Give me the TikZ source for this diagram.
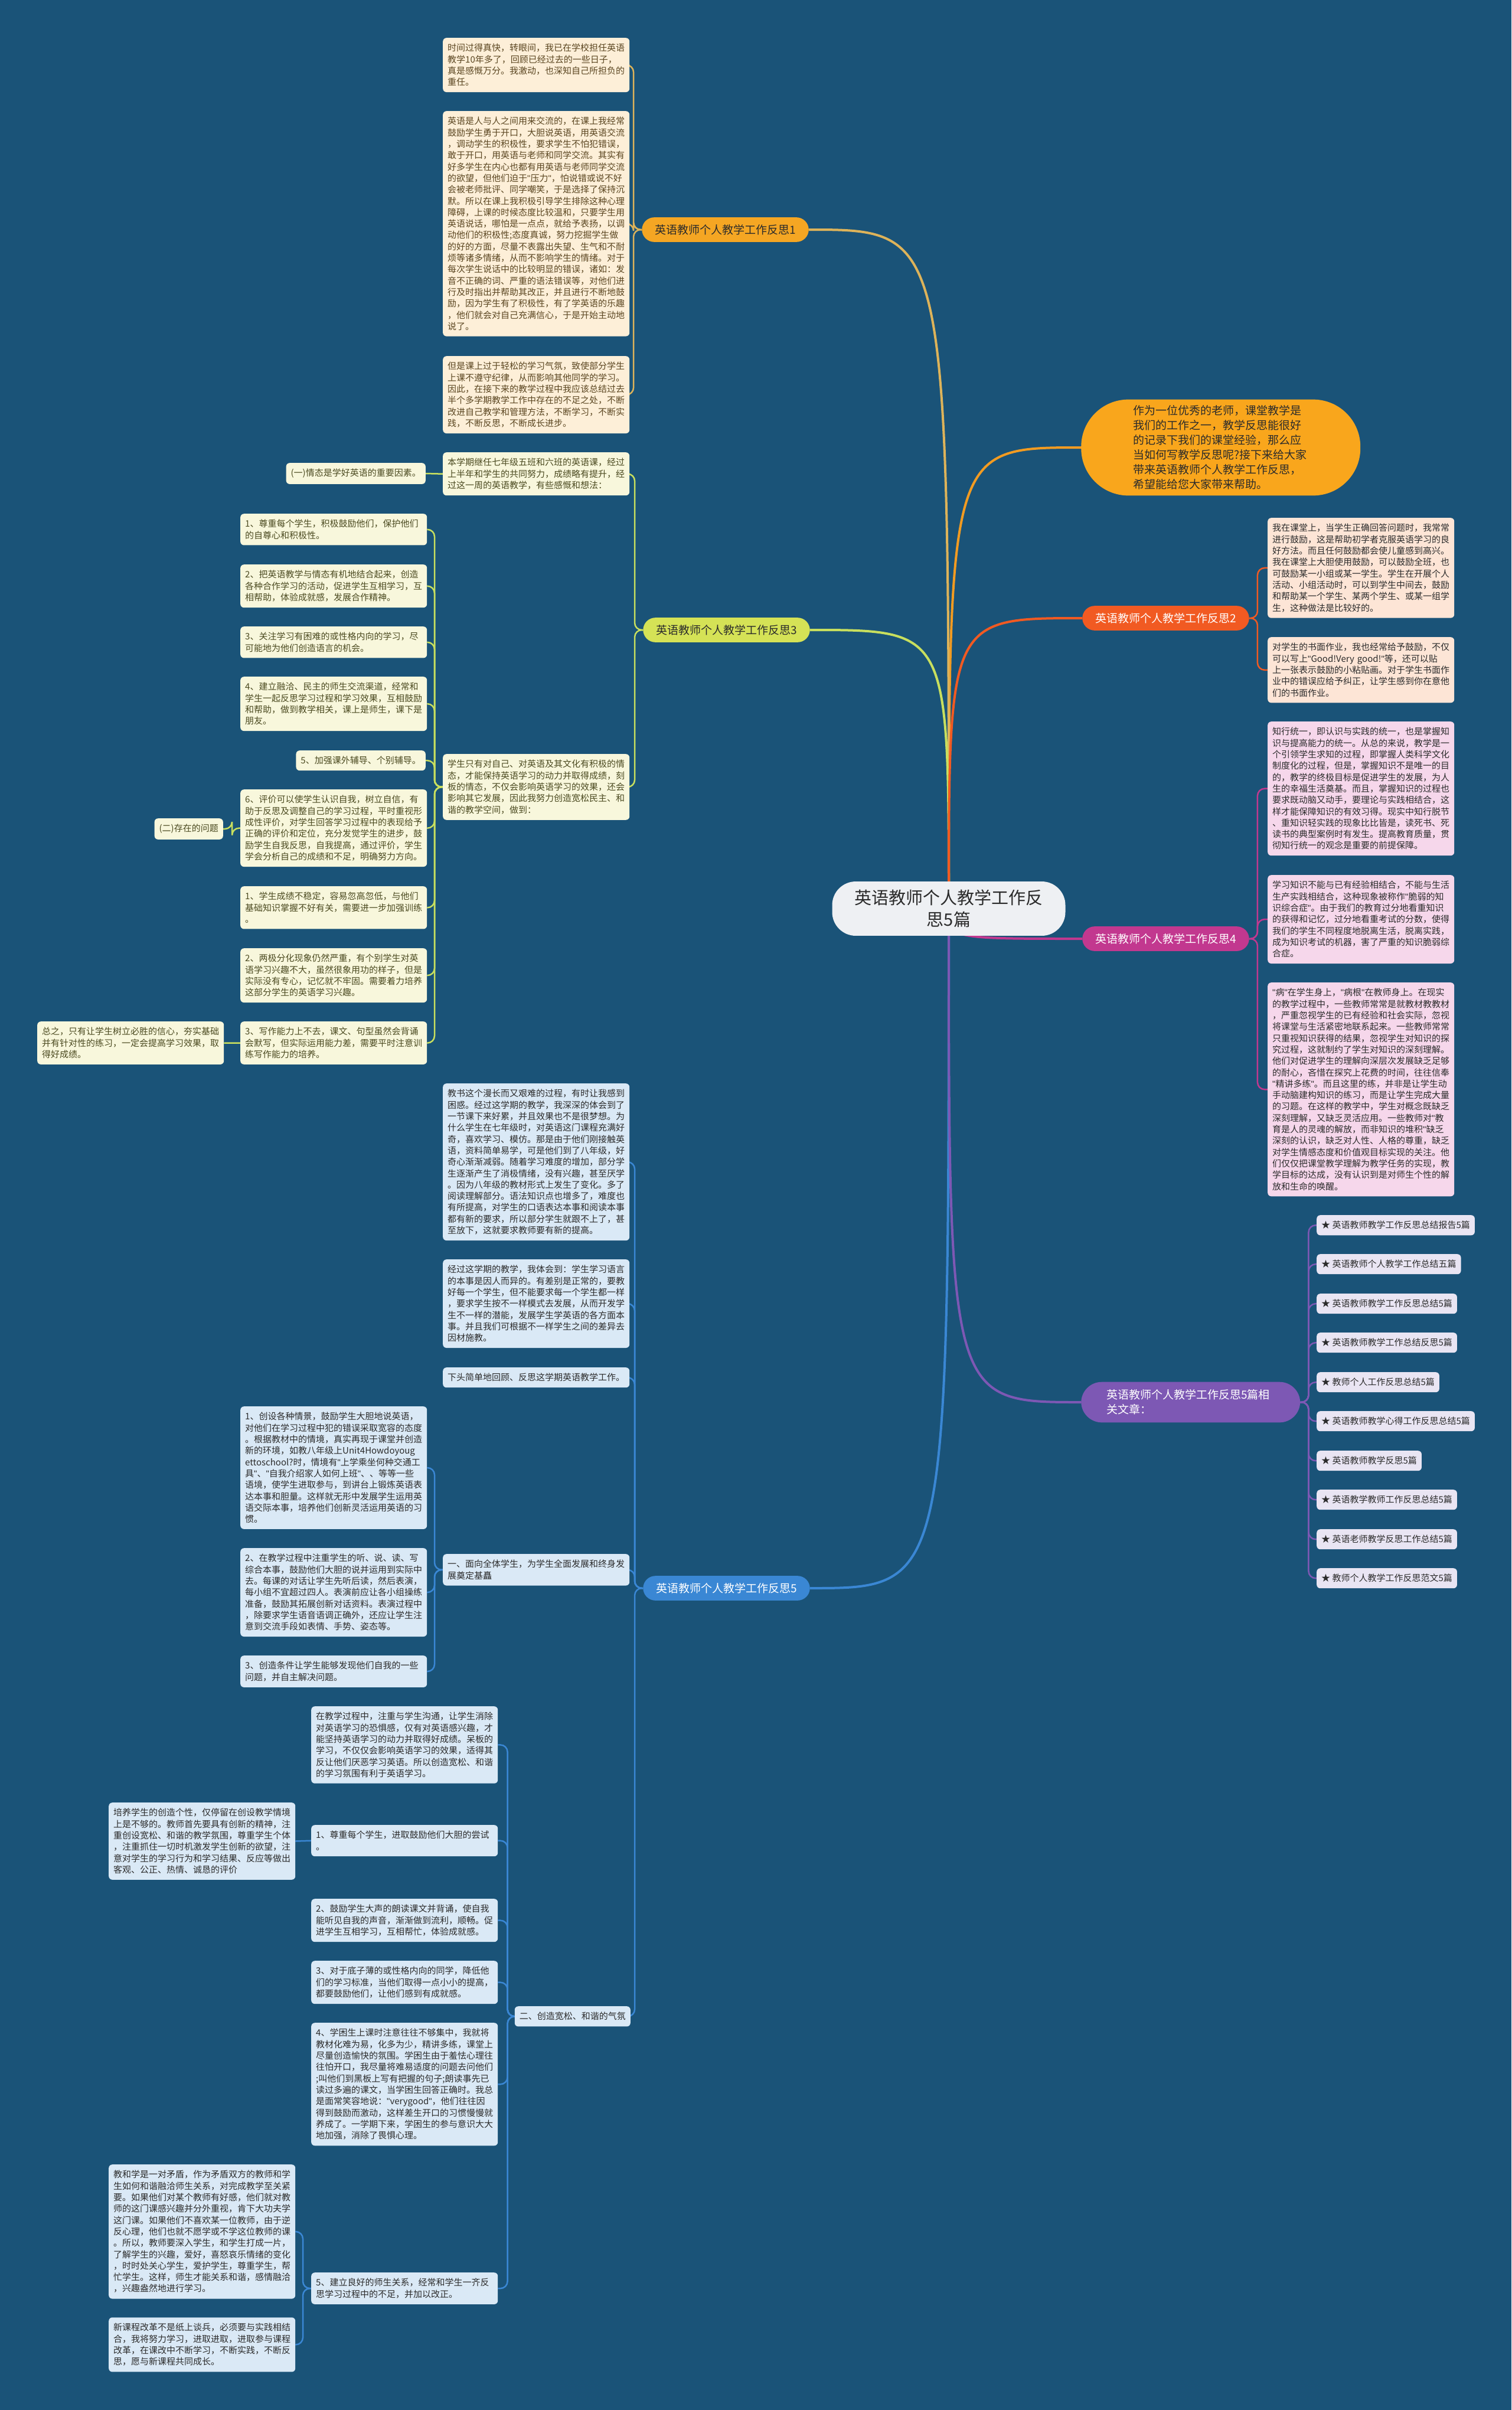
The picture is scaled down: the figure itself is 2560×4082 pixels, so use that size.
\documentclass[tikz,border=0pt]{standalone}
\usepackage{fontspec}
\setmainfont{Noto Sans CJK SC}
\newfontfamily\latinq{Liberation Sans}
\usetikzlibrary{backgrounds}

\definecolor{bgblue}{HTML}{1A5378}
\definecolor{rootfill}{HTML}{EEF0F3}
\definecolor{orgA}{HTML}{F5A623}
\definecolor{lineA}{HTML}{DDB35A}
\definecolor{leafA}{HTML}{FDEFD8}
\definecolor{textA}{HTML}{5A4520}
\definecolor{bubfill}{HTML}{F9A61C}
\definecolor{linebub}{HTML}{F29B21}
\definecolor{redB}{HTML}{F15A22}
\definecolor{leafB}{HTML}{FDE5D6}
\definecolor{limeC}{HTML}{D5E256}
\definecolor{lineC}{HTML}{C8DF5E}
\definecolor{leafC}{HTML}{F8F7DC}
\definecolor{textC}{HTML}{4B4A20}
\definecolor{magD}{HTML}{C2388F}
\definecolor{leafD}{HTML}{F6D7EB}
\definecolor{purE}{HTML}{7D58B4}
\definecolor{leafE}{HTML}{E9E5F3}
\definecolor{bluF}{HTML}{3A87D4}
\definecolor{leafF}{HTML}{DAE9F6}
\definecolor{darktext}{HTML}{2B2B2B}

\newcommand{\leaffont}{\fontsize{15pt}{19.3pt}\selectfont}
\newcommand{\branchfont}{\fontsize{19pt}{25pt}\selectfont}
\newcommand{\rootfont}{\fontsize{29pt}{37pt}\selectfont}
\newcommand{\qmark}{{\latinq"}}

\begin{document}
\begin{tikzpicture}[x=1pt,y=-1pt,
	leafbox/.style={rounded corners=6pt,inner xsep=8pt,inner ysep=10pt,align=left,font=\leaffont},
	leafwide/.style={leafbox,text width=300pt,anchor=north west},
	leafshort/.style={leafbox,anchor=north east},
	tintA/.style={fill=leafA,text=textA},
	tintB/.style={fill=leafB,text=darktext},
	tintC/.style={fill=leafC,text=textC},
	tintD/.style={fill=leafD,text=darktext},
	tintE/.style={fill=leafE,text=darktext,anchor=north west},
	tintF/.style={fill=leafF,text=darktext},
	branchbox/.style={rounded corners=21pt,inner xsep=22pt,inner ysep=12pt,font=\branchfont},
	twig/.style={line width=2.5pt,rounded corners=12pt},
	limb/.style={line width=4pt}]
	\useasboundingbox (0,0) rectangle (2560,4082);

	%root
	\node[rootbox/.style={fill=rootfill,text=darktext,rounded corners=40pt,inner xsep=38pt,inner ysep=14pt,align=center,font=\rootfont},rootbox] (root) at (1607,1539) {英语教师个人教学工作反\\思5篇};

	%intro bubble
	\node[fill=bubfill,text=darktext,rounded corners=80pt,inner xsep=88pt,inner ysep=10pt,text width=297pt,align=left,font=\branchfont,anchor=west] (intro) at (1831,758) {作为一位优秀的老师，课堂教学是\\我们的工作之一，教学反思能很好\\的记录下我们的课堂经验，那么应\\当如何写教学反思呢?接下来给大家\\带来英语教师个人教学工作反思，\\希望能给您大家带来帮助。};

	%branches
	\node[branchbox,fill=orgA,text=darktext,anchor=east] (b1) at (1370,389) {英语教师个人教学工作反思1};
	\node[branchbox,fill=limeC,text=darktext,anchor=east] (b3) at (1372,1067) {英语教师个人教学工作反思3};
	\node[branchbox,fill=bluF,text=white,anchor=east] (b5) at (1372,2690) {英语教师个人教学工作反思5};
	\node[branchbox,fill=redB,text=white,anchor=west] (b2) at (1833,1047) {英语教师个人教学工作反思2};
	\node[branchbox,fill=magD,text=white,anchor=west] (b4) at (1833,1590) {英语教师个人教学工作反思4};
	\node[branchbox,fill=purE,text=white,anchor=west,rounded corners=35pt,text width=285pt,align=left,inner xsep=43pt,inner ysep=13pt] (brel) at (1831,2375) {英语教师个人教学工作反思5篇相\\关文章：};

	%branch 1 leaves
	\node[leafwide,tintA] (l1a) at (750,64) {时间过得真快，转眼间，我已在学校担任英语\\教学10年多了，回顾已经过去的一些日子，\\真是感慨万分。我激动，也深知自己所担负的\\重任。};
	\node[leafwide,tintA] (l1b) at (750,188) {英语是人与人之间用来交流的，在课上我经常\\鼓励学生勇于开口，大胆说英语，用英语交流\\，调动学生的积极性，要求学生不怕犯错误，\\敢于开口，用英语与老师和同学交流。其实有\\好多学生在内心也都有用英语与老师同学交流\\的欲望，但他们迫于\qmark 压力\qmark，怕说错或说不好\\会被老师批评、同学嘲笑，于是选择了保持沉\\默。所以在课上我积极引导学生排除这种心理\\障碍，上课的时候态度比较温和，只要学生用\\英语说话，哪怕是一点点，就给予表扬，以调\\动他们的积极性;态度真诚，努力挖掘学生做\\的好的方面，尽量不表露出失望、生气和不耐\\烦等诸多情绪，从而不影响学生的情绪。对于\\每次学生说话中的比较明显的错误，诸如：发\\音不正确的词、严重的语法错误等，对他们进\\行及时指出并帮助其改正，并且进行不断地鼓\\励，因为学生有了积极性，有了学英语的乐趣\\，他们就会对自己充满信心，于是开始主动地\\说了。};
	\node[leafwide,tintA] (l1c) at (750,603) {但是课上过于轻松的学习气氛，致使部分学生\\上课不遵守纪律，从而影响其他同学的学习。\\因此，在接下来的教学过程中我应该总结过去\\半个多学期教学工作中存在的不足之处，不断\\改进自己教学和管理方法，不断学习，不断实\\践，不断反思，不断成长进步。};

	%branch 3 leaves
	\node[leafwide,tintC] (l3a) at (750,766) {本学期继任七年级五班和六班的英语课，经过\\上半年和学生的共同努力，成绩略有提升，经\\过这一周的英语教学，有些感慨和想法：};
	\node[leafshort,tintC] (mood) at (721,784) {(一)情态是学好英语的重要因素。};
	\node[leafwide,tintC] (l3b) at (750,1277) {学生只有对自己、对英语及其文化有积极的情\\态，才能保持英语学习的动力并取得成绩，刻\\板的情态，不仅会影响英语学习的效果，还会\\影响其它发展，因此我努力创造宽松民主、和\\谐的教学空间，做到：};
	\node[leafwide,tintC] (do1) at (407,870) {1、尊重每个学生，积极鼓励他们，保护他们\\的自尊心和积极性。};
	\node[leafwide,tintC] (do2) at (407,956) {2、把英语教学与情态有机地结合起来，创造\\各种合作学习的活动，促进学生互相学习，互\\相帮助，体验成就感，发展合作精神。};
	\node[leafwide,tintC] (do3) at (407,1061) {3、关注学习有困难的或性格内向的学习，尽\\可能地为他们创造语言的机会。};
	\node[leafwide,tintC] (do4) at (407,1146) {4、建立融洽、民主的师生交流渠道，经常和\\学生一起反思学习过程和学习效果，互相鼓励\\和帮助，做到教学相关，课上是师生，课下是\\朋友。};
	\node[leafshort,tintC] (do5) at (721,1271) {5、加强课外辅导、个别辅导。};
	\node[leafwide,tintC] (do6) at (407,1337) {6、评价可以使学生认识自我，树立自信，有\\助于反思及调整自己的学习过程，平时重视形\\成性评价，对学生回答学习过程中的表现给予\\正确的评价和定位，充分发觉学生的进步，鼓\\励学生自我反思，自我提高，通过评价，学生\\学会分析自己的成绩和不足，明确努力方向。};
	\node[leafshort,tintC] (issue) at (378,1386) {(二)存在的问题};
	\node[leafwide,tintC] (pb1) at (407,1501) {1、学生成绩不稳定，容易忽高忽低，与他们\\基础知识掌握不好有关，需要进一步加强训练\\。};
	\node[leafwide,tintC] (pb2) at (407,1606) {2、两极分化现象仍然严重，有个别学生对英\\语学习兴趣不大，虽然很象用功的样子，但是\\实际没有专心，记忆就不牢固。需要着力培养\\这部分学生的英语学习兴趣。};
	\node[leafwide,tintC] (pb3) at (407,1730) {3、写作能力上不去，课文、句型虽然会背诵\\会默写，但实际运用能力差，需要平时注意训\\练写作能力的培养。};
	\node[leafwide,tintC] (sum3) at (63,1730) {总之，只有让学生树立必胜的信心，夯实基础\\并有针对性的练习，一定会提高学习效果，取\\得好成绩。};

	%branch 2 leaves
	\node[leafwide,tintB] (l2a) at (2147,877) {我在课堂上，当学生正确回答问题时，我常常\\进行鼓励，这是帮助初学者克服英语学习的良\\好方法。而且任何鼓励都会使儿童感到高兴。\\我在课堂上大胆使用鼓励，可以鼓励全班，也\\可鼓励某一小组或某一学生。学生在开展个人\\活动、小组活动时，可以到学生中间去，鼓励\\和帮助某一个学生、某两个学生、或某一组学\\生，这种做法是比较好的。};
	\node[leafwide,tintB] (l2b) at (2147,1079) {对学生的书面作业，我也经常给予鼓励，不仅\\可以写上\qmark Good!Very good!\qmark 等，还可以贴\\上一张表示鼓励的小粘贴画。对于学生书面作\\业中的错误应给予纠正，让学生感到你在意他\\们的书面作业。};

	%branch 4 leaves
	\node[leafwide,tintD] (l4a) at (2147,1222) {知行统一，即认识与实践的统一，也是掌握知\\识与提高能力的统一。从总的来说，教学是一\\个引领学生求知的过程，即掌握人类科学文化\\制度化的过程，但是，掌握知识不是唯一的目\\的，教学的终极目标是促进学生的发展，为人\\生的幸福生活奠基。而且，掌握知识的过程也\\要求既动脑又动手，要理论与实践相结合，这\\样才能保障知识的有效习得。现实中知行脱节\\、重知识轻实践的现象比比皆是，读死书、死\\读书的典型案例时有发生。提高教育质量，贯\\彻知行统一的观念是重要的前提保障。};
	\node[leafwide,tintD] (l4b) at (2147,1482) {学习知识不能与已有经验相结合，不能与生活\\生产实践相结合，这种现象被称作\qmark 脆弱的知\\识综合症\qmark。由于我们的教育过分地看重知识\\的获得和记忆，过分地看重考试的分数，使得\\我们的学生不同程度地脱离生活，脱离实践，\\成为知识考试的机器，害了严重的知识脆弱综\\合症。};
	\node[leafwide,tintD] (l4c) at (2147,1664) {\qmark 病\qmark 在学生身上，\qmark 病根\qmark 在教师身上。在现实\\的教学过程中，一些教师常常是就教材教教材\\，严重忽视学生的已有经验和社会实际，忽视\\将课堂与生活紧密地联系起来。一些教师常常\\只重视知识获得的结果，忽视学生对知识的探\\究过程，这就制约了学生对知识的深刻理解。\\他们对促进学生的理解向深层次发展缺乏足够\\的耐心，吝惜在探究上花费的时间，往往信奉\\\qmark 精讲多练\qmark。而且这里的练，并非是让学生动\\手动脑建构知识的练习，而是让学生完成大量\\的习题。在这样的教学中，学生对概念既缺乏\\深刻理解，又缺乏灵活应用。一些教师对\qmark 教\\育是人的灵魂的解放，而非知识的堆积\qmark 缺乏\\深刻的认识，缺乏对人性、人格的尊重，缺乏\\对学生情感态度和价值观目标实现的关注。他\\们仅仅把课堂教学理解为教学任务的实现，教\\学目标的达成，没有认识到是对师生个性的解\\放和生命的唤醒。};

	%related articles
	\node[leafbox,tintE] (rel1) at (2230,2058) {★ 英语教师教学工作反思总结报告5篇};
	\node[leafbox,tintE] (rel2) at (2230,2124) {★ 英语教师个人教学工作总结五篇};
	\node[leafbox,tintE] (rel3) at (2230,2191) {★ 英语教师教学工作反思总结5篇};
	\node[leafbox,tintE] (rel4) at (2230,2257) {★ 英语教师教学工作总结反思5篇};
	\node[leafbox,tintE] (rel5) at (2230,2324) {★ 教师个人工作反思总结5篇};
	\node[leafbox,tintE] (rel6) at (2230,2390) {★ 英语教师教学心得工作反思总结5篇};
	\node[leafbox,tintE] (rel7) at (2230,2457) {★ 英语教师教学反思5篇};
	\node[leafbox,tintE] (rel8) at (2230,2523) {★ 英语教学教师工作反思总结5篇};
	\node[leafbox,tintE] (rel9) at (2230,2590) {★ 英语老师教学反思工作总结5篇};
	\node[leafbox,tintE] (rel10) at (2230,2656) {★ 教师个人教学工作反思范文5篇};

	%branch 5 leaves
	\node[leafwide,tintF] (l5a) at (750,1835) {教书这个漫长而又艰难的过程，有时让我感到\\困惑。经过这学期的教学，我深深的体会到了\\一节课下来好累，并且效果也不是很梦想。为\\什么学生在七年级时，对英语这门课程充满好\\奇，喜欢学习、模仿。那是由于他们刚接触英\\语，资料简单易学，可是他们到了八年级，好\\奇心渐渐减弱。随着学习难度的增加，部分学\\生逐渐产生了消极情绪，没有兴趣，甚至厌学\\。因为八年级的教材形式上发生了变化。多了\\阅读理解部分。语法知识点也增多了，难度也\\有所提高，对学生的口语表达本事和阅读本事\\都有新的要求，所以部分学生就跟不上了，甚\\至放下，这就要求教师要有新的提高。};
	\node[leafwide,tintF] (l5b) at (750,2133) {经过这学期的教学，我体会到：学生学习语言\\的本事是因人而异的。有差别是正常的，要教\\好每一个学生，但不能要求每一个学生都一样\\，要求学生按不一样模式去发展，从而开发学\\生不一样的潜能，发展学生学英语的各方面本\\事。并且我们可根据不一样学生之间的差异去\\因材施教。};
	\node[leafwide,tintF] (l5c) at (750,2316) {下头简单地回顾、反思这学期英语教学工作。};
	\node[leafwide,tintF] (l5d) at (750,2632) {一、面向全体学生，为学生全面发展和终身发\\展奠定基矗};
	\node[leafwide,tintF] (sc1) at (407,2382) {1、创设各种情景，鼓励学生大胆地说英语，\\对他们在学习过程中犯的错误采取宽容的态度\\。根据教材中的情境，真实再现于课堂并创造\\新的环境，如教八年级上Unit4Howdoyoug\\ettoschool?时，情境有\qmark 上学乘坐何种交通工\\具\qmark、\qmark 自我介绍家人如何上班\qmark、、等等一些\\语境，使学生进取参与，到讲台上锻炼英语表\\达本事和胆量。这样就无形中发展学生运用英\\语交际本事，培养他们创新灵活运用英语的习\\惯。};
	\node[leafwide,tintF] (sc2) at (407,2622) {2、在教学过程中注重学生的听、说、读、写\\综合本事，鼓励他们大胆的说并运用到实际中\\去。每课的对话让学生先听后读，然后表演，\\每小组不宜超过四人。表演前应让各小组操练\\准备，鼓励其拓展创新对话资料。表演过程中\\，除要求学生语音语调正确外，还应让学生注\\意到交流手段如表情、手势、姿态等。};
	\node[leafwide,tintF] (sc3) at (407,2804) {3、创造条件让学生能够发现他们自我的一些\\问题，并自主解决问题。};
	\node[leafshort,tintF] (l5e) at (1068,3398) {二、创造宽松、和谐的气氛};
	\node[leafwide,tintF] (at0) at (527,2890) {在教学过程中，注重与学生沟通，让学生消除\\对英语学习的恐惧感，仅有对英语感兴趣，才\\能坚持英语学习的动力并取得好成绩。呆板的\\学习，不仅仅会影响英语学习的效果，适得其\\反让他们厌恶学习英语。所以创造宽松、和谐\\的学习氛围有利于英语学习。};
	\node[leafwide,tintF] (at1) at (527,3091) {1、尊重每个学生，进取鼓励他们大胆的尝试\\。};
	\node[leafwide,tintF] (at1c) at (184,3053) {培养学生的创造个性，仅停留在创设教学情境\\上是不够的。教师首先要具有创新的精神，注\\重创设宽松、和谐的教学氛围，尊重学生个体\\，注重抓住一切时机激发学生创新的欲望，注\\意对学生的学习行为和学习结果、反应等做出\\客观、公正、热情、诚恳的评价};
	\node[leafwide,tintF] (at2) at (527,3216) {2、鼓励学生大声的朗读课文并背诵，使自我\\能听见自我的声音，渐渐做到流利，顺畅。促\\进学生互相学习，互相帮忙，体验成就感。};
	\node[leafwide,tintF] (at3) at (527,3321) {3、对于底子薄的或性格内向的同学，降低他\\们的学习标准，当他们取得一点小小的提高，\\都要鼓励他们，让他们感到有成就感。};
	\node[leafwide,tintF] (at4) at (527,3426) {4、学困生上课时注意往往不够集中，我就将\\教材化难为易，化多为少，精讲多练，课堂上\\尽量创造愉快的氛围。学困生由于羞怯心理往\\往怕开口，我尽量将难易适度的问题去问他们\\;叫他们到黑板上写有把握的句子;朗读事先已\\读过多遍的课文，当学困生回答正确时。我总\\是面常笑容地说：\qmark verygood\qmark，他们往往因\\得到鼓励而激动，这样差生开口的习惯慢慢就\\养成了。一学期下来，学困生的参与意识大大\\地加强，消除了畏惧心理。};
	\node[leafwide,tintF] (at5) at (527,3849) {5、建立良好的师生关系，经常和学生一齐反\\思学习过程中的不足，并加以改正。};
	\node[leafwide,tintF] (at5a) at (184,3666) {教和学是一对矛盾，作为矛盾双方的教师和学\\生如何和谐融洽师生关系，对完成教学至关紧\\要。如果他们对某个教师有好感，他们就对教\\师的这门课感兴趣并分外重视，肯下大功夫学\\这门课。如果他们不喜欢某一位教师，由于逆\\反心理，他们也就不愿学或不学这位教师的课\\。所以，教师要深入学生，和学生打成一片，\\了解学生的兴趣，爱好，喜怒哀乐情绪的变化\\，时时处关心学生，爱护学生，尊重学生，帮\\忙学生。这样，师生才能关系和谐，感情融洽\\，兴趣盎然地进行学习。};
	\node[leafwide,tintF] (at5b) at (184,3925) {新课程改革不是纸上谈兵，必须要与实践相结\\合，我将努力学习，进取进取，进取参与课程\\改革，在课改中不断学习，不断实践，不断反\\思，愿与新课程共同成长。};

	\begin{scope}[on background layer]
	\fill[bgblue] (0,0) rectangle (2560,4082);

	%root to branches
	\draw[limb,linebub] (root.center) .. controls (root.center |- intro.west) .. (intro.west);
	\draw[limb,lineA] (root.center) .. controls (root.center |- b1.east) .. (b1.east);
	\draw[limb,lineC] (root.center) .. controls (root.center |- b3.east) .. (b3.east);
	\draw[limb,bluF] (root.center) .. controls (root.center |- b5.east) .. (b5.east);
	\draw[limb,redB] (root.center) .. controls (root.center |- b2.west) .. (b2.west);
	\draw[limb,magD] (root.center) .. controls (root.center |- b4.west) .. (b4.west);
	\draw[limb,purE] (root.center) .. controls (root.center |- brel.west) .. (brel.west);

	%branch 1
	\draw[twig,lineA] (b1.west) -- ++(-14,0) |- (l1a.east);
	\draw[twig,lineA] (b1.west) -- ++(-14,0) |- (l1b.east);
	\draw[twig,lineA] (b1.west) -- ++(-14,0) |- (l1c.east);

	%branch 3
	\draw[twig,lineC] (b3.west) -- ++(-14,0) |- (l3a.east);
	\draw[twig,lineC] (b3.west) -- ++(-14,0) |- (l3b.east);
	\draw[twig,lineC] (l3a.west) -- (mood.east);
	\draw[twig,lineC] (l3b.west) -- ++(-14,0) |- (do1.east);
	\draw[twig,lineC] (l3b.west) -- ++(-14,0) |- (do2.east);
	\draw[twig,lineC] (l3b.west) -- ++(-14,0) |- (do3.east);
	\draw[twig,lineC] (l3b.west) -- ++(-14,0) |- (do4.east);
	\draw[twig,lineC] (l3b.west) -- ++(-14,0) |- (do5.east);
	\draw[twig,lineC] (l3b.west) -- ++(-14,0) |- (do6.east);
	\draw[twig,lineC] (l3b.west) -- ++(-14,0) |- (pb1.east);
	\draw[twig,lineC] (l3b.west) -- ++(-14,0) |- (pb2.east);
	\draw[twig,lineC] (l3b.west) -- ++(-14,0) |- (pb3.east);
	\draw[twig,lineC] (do6.west) -- ++(-14,0) |- (issue.east);
	\draw[twig,lineC] (pb3.west) -- (sum3.east);

	%branch 2 and 4
	\draw[twig,redB] (b2.east) -- ++(14,0) |- (l2a.west);
	\draw[twig,redB] (b2.east) -- ++(14,0) |- (l2b.west);
	\draw[twig,magD] (b4.east) -- ++(14,0) |- (l4a.west);
	\draw[twig,magD] (b4.east) -- ++(14,0) |- (l4b.west);
	\draw[twig,magD] (b4.east) -- ++(14,0) |- (l4c.west);

	%related articles
	\draw[twig,purE] (brel.east) -- ++(14,0) |- (rel1.west);
	\draw[twig,purE] (brel.east) -- ++(14,0) |- (rel2.west);
	\draw[twig,purE] (brel.east) -- ++(14,0) |- (rel3.west);
	\draw[twig,purE] (brel.east) -- ++(14,0) |- (rel4.west);
	\draw[twig,purE] (brel.east) -- ++(14,0) |- (rel5.west);
	\draw[twig,purE] (brel.east) -- ++(14,0) |- (rel6.west);
	\draw[twig,purE] (brel.east) -- ++(14,0) |- (rel7.west);
	\draw[twig,purE] (brel.east) -- ++(14,0) |- (rel8.west);
	\draw[twig,purE] (brel.east) -- ++(14,0) |- (rel9.west);
	\draw[twig,purE] (brel.east) -- ++(14,0) |- (rel10.west);

	%branch 5
	\draw[twig,bluF] (b5.west) -- ++(-14,0) |- (l5a.east);
	\draw[twig,bluF] (b5.west) -- ++(-14,0) |- (l5b.east);
	\draw[twig,bluF] (b5.west) -- ++(-14,0) |- (l5c.east);
	\draw[twig,bluF] (b5.west) -- ++(-14,0) |- (l5d.east);
	\draw[twig,bluF] (b5.west) -- ++(-14,0) |- (l5e.east);
	\draw[twig,bluF] (l5d.west) -- ++(-14,0) |- (sc1.east);
	\draw[twig,bluF] (l5d.west) -- ++(-14,0) |- (sc2.east);
	\draw[twig,bluF] (l5d.west) -- ++(-14,0) |- (sc3.east);
	\draw[twig,bluF] (l5e.west) -- ++(-12,0) |- (at0.east);
	\draw[twig,bluF] (l5e.west) -- ++(-12,0) |- (at1.east);
	\draw[twig,bluF] (l5e.west) -- ++(-12,0) |- (at2.east);
	\draw[twig,bluF] (l5e.west) -- ++(-12,0) |- (at3.east);
	\draw[twig,bluF] (l5e.west) -- ++(-12,0) |- (at4.east);
	\draw[twig,bluF] (l5e.west) -- ++(-12,0) |- (at5.east);
	\draw[twig,bluF] (at1.west) -- (at1c.east);
	\draw[twig,bluF] (at5.west) -- ++(-14,0) |- (at5a.east);
	\draw[twig,bluF] (at5.west) -- ++(-14,0) |- (at5b.east);
	\end{scope}
\end{tikzpicture}
\end{document}
